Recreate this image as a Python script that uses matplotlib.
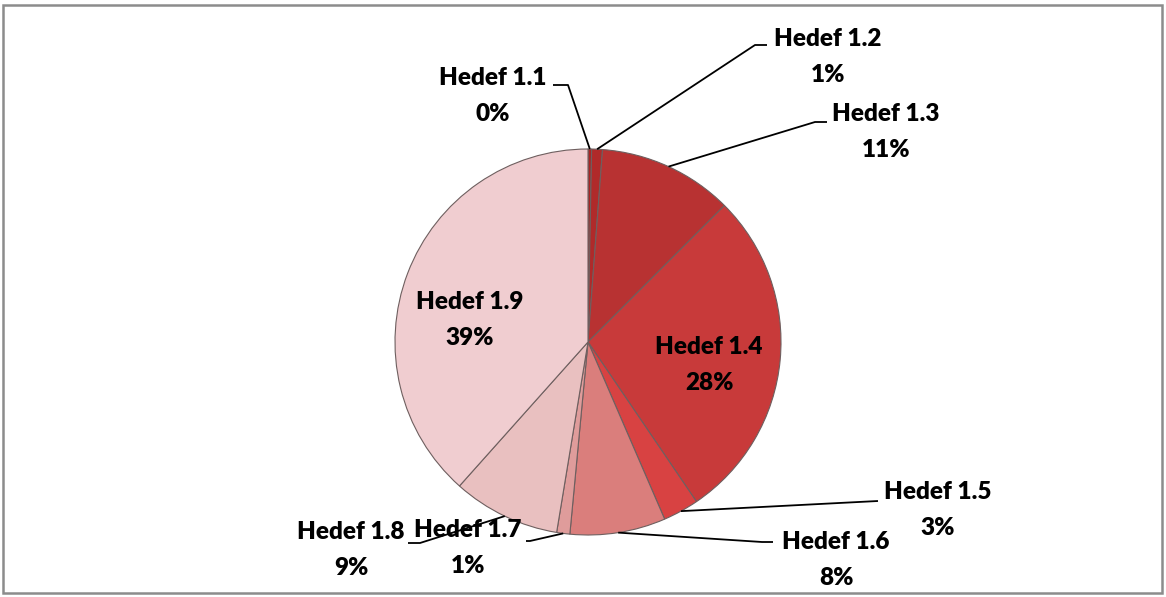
import numpy as np
import matplotlib
matplotlib.use("Agg")
import matplotlib.pyplot as plt

labels = ["Hedef 1.1", "Hedef 1.2", "Hedef 1.3", "Hedef 1.4", "Hedef 1.5",
          "Hedef 1.6", "Hedef 1.7", "Hedef 1.8", "Hedef 1.9"]
shares = [0.3, 0.9, 11.3, 28.0, 3.0, 8.0, 1.1, 9.0, 38.4]
pct_text = ["0%", "1%", "11%", "28%", "3%", "8%", "1%", "9%", "39%"]
colors = ["#a82424", "#b02a2a", "#b83232", "#c83a3a", "#d84242",
          "#da7e7c", "#df9c9b", "#e9c0c0", "#f0cdd0"]

plt.rcParams["font.family"] = ["Lato", "DejaVu Sans"]

W, H = 1166, 597
fig = plt.figure(figsize=(W / 100, H / 100), dpi=100)
ax = fig.add_axes([0, 0, 1, 1])

cx, cy, r = 588, H - 342, 193
wedges, _ = ax.pie(shares, colors=colors, startangle=90, counterclock=False,
                   center=(cx, cy), radius=r, frame=True,
                   wedgeprops=dict(edgecolor="#6e5f5f", linewidth=0.8))
ax.set_xlim(0, W)
ax.set_ylim(0, H)
ax.set_aspect("equal")
ax.axis("off")

# label text centres (pixels, y from top), leader elbow and tick end
label_pos = {
    0: (493, 96, (568, 85), (553, 85)),
    1: (828, 57, (755, 45), (767, 45)),
    2: (886, 132, (815, 122), (827, 122)),
    3: (709, 365, None, None),
    4: (938, 510, (878, 501), None),
    5: (836, 560, (762, 542), (773, 542)),
    6: (468, 548, (530, 541), (526, 541)),
    7: (351, 550, (420, 543), (408, 543)),
    8: (470, 320, None, None),
}

for i, w in enumerate(wedges):
    tx, ty, elbow, tick = label_pos[i]
    ax.text(tx, H - ty, f"{labels[i]}\n{pct_text[i]}", ha="center", va="center",
            fontsize=17.5, fontweight="heavy", color="black", linespacing=1.75)
    if elbow is None:
        continue
    mid = np.deg2rad((w.theta1 + w.theta2) / 2)
    px, py = cx + r * np.cos(mid), cy + r * np.sin(mid)
    if i == 0:
        py = cy + r
    xs, ys = [px, elbow[0]], [py, H - elbow[1]]
    if tick is not None:
        xs.append(tick[0])
        ys.append(H - tick[1])
    ax.plot(xs, ys, color="black", linewidth=1.3, solid_capstyle="butt")

fig.add_artist(plt.Rectangle((3 / W, 4 / H), (W - 7) / W, (H - 9) / H,
                             transform=fig.transFigure, fill=False,
                             edgecolor="#8c8c8c", linewidth=1.8))

fig.savefig("out.png", dpi=100)
